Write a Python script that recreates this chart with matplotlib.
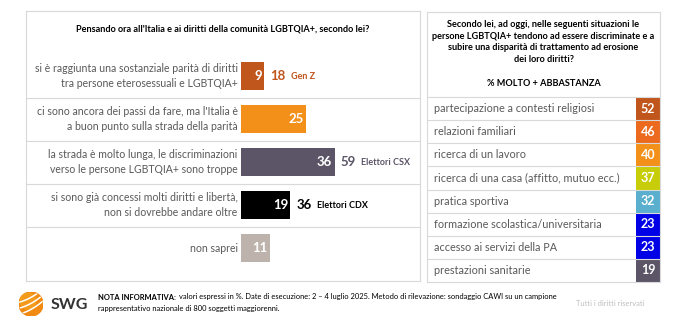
import matplotlib.pyplot as plt
import numpy as np
from matplotlib.patches import Circle

plt.rcParams['font.family'] = ['Lato', 'DejaVu Sans']

# left chart data
left_labels = ['si è raggiunta una sostanziale parità di diritti\ntra persone eterosessuali e LGBTQIA+',
               "ci sono ancora dei passi da fare, ma l'Italia è\na buon punto sulla strada della parità",
               'la strada è molto lunga, le discriminazioni\nverso le persone LGBTQIA+ sono troppe',
               'si sono già concessi molti diritti e libertà,\nnon si dovrebbe andare oltre',
               'non saprei']
left_values = [9, 25, 36, 19, 11]
left_colors = ['#C0561B', '#F39019', '#5C5568', '#000000', '#BDB3AC']
sub_values = [18, None, 59, 36, None]
sub_labels = ['Gen Z', None, 'Elettori CSX', 'Elettori CDX', None]
sub_colors = ['#C0561B', None, '#5C5568', '#000000', None]

# right table data
right_labels = ['partecipazione a contesti religiosi', 'relazioni familiari', 'ricerca di un lavoro',
                'ricerca di una casa (affitto, mutuo ecc.)', 'pratica sportiva',
                'formazione scolastica/universitaria', 'accesso ai servizi della PA',
                'prestazioni sanitarie']
right_values = [52, 46, 40, 37, 32, 23, 23, 19]
right_colors = ['#C0561B', '#EC6A1E', '#F39019', '#C8CD0A', '#5AAFCF', '#0000E6', '#0000E6', '#5C5568']

W, H = 679, 322
fig = plt.figure(figsize=(W / 100, H / 100), dpi=100)


def box(x0, y0, x1, y1):
    return [x0 / W, 1 - y1 / H, (x1 - x0) / W, (y1 - y0) / H]


grid = '#D9D9D9'
label_col = '#595959'

# ---- left panel
ax = fig.add_axes(box(26, 11, 420, 281))
ax.set_xlim(-(241 - 26) / 2.6, (420 - 241) / 2.6)
ax.set_ylim((281 - 76) / 43, (11 - 76) / 43)
ax.set_xticks([])
ax.set_yticks([])
for s in ax.spines.values():
    s.set_color(grid)
    s.set_linewidth(0.8)

y = np.arange(len(left_values))
ax.barh(y, left_values, height=0.66, color=left_colors)
for i in range(len(left_values) - 1):
    ax.axhline(i + 0.5, color=grid, lw=0.8)
for i, (lab, v) in enumerate(zip(left_labels, left_values)):
    ax.text(-1.3, i, lab, ha='right', va='center', fontsize=7.6, color=label_col, linespacing=1.4)
    ax.text(v - 0.9, i, str(v), ha='right', va='center', fontsize=9.5, color='white', fontweight='bold')
    if sub_values[i] is not None:
        ax.text(v + 2.2, i, str(sub_values[i]), ha='left', va='center', fontsize=9.5,
                color=sub_colors[i], fontweight='bold')
        ax.annotate(sub_labels[i], (v + 2.2, i), xytext=(15, 0), textcoords='offset points',
                    ha='left', va='center', fontsize=6.5, color=sub_colors[i], fontweight='bold')
ax.text(0.5, 1 - (29 - 11) / 270, "Pensando ora all'Italia e ai diritti della comunità LGBTQIA+, secondo lei?",
        transform=ax.transAxes, ha='center', va='center', fontsize=6.6, fontweight='bold')

# ---- right panel
ax2 = fig.add_axes(box(427, 12, 660, 282))
rh = (282 - 97) / 8
ax2.set_xlim(0, 1)
ax2.set_ylim(8, -(97 - 12) / rh)
ax2.set_xticks([])
ax2.set_yticks([])
for s in ax2.spines.values():
    s.set_color(grid)
    s.set_linewidth(0.8)

cell_w = 24 / 233
yr = np.arange(len(right_values)) + 0.5
ax2.barh(yr, cell_w, left=1 - cell_w, height=1, color=right_colors)
for i in range(len(right_values)):
    ax2.axhline(i, color=grid, lw=0.8)
for i, (lab, v) in enumerate(zip(right_labels, right_values)):
    ax2.text(0.03, i + 0.5, lab, ha='left', va='center', fontsize=7.8, color=label_col)
    ax2.text(1 - cell_w / 2, i + 0.5, str(v), ha='center', va='center', fontsize=9,
             color='white', fontweight='bold')

ax2.text(0.5, 1 - (42 - 12) / 270,
         'Secondo lei, ad oggi, nelle seguenti situazioni le\n'
         'persone LGBTQIA+ tendono ad essere discriminate e a\n'
         'subire una disparità di trattamento ad erosione\ndei loro diritti?',
         transform=ax2.transAxes, ha='center', va='center', fontsize=6.6, fontweight='bold',
         linespacing=1.35)
ax2.text(0.5, 1 - (84 - 12) / 270, '% MOLTO + ABBASTANZA', transform=ax2.transAxes,
         ha='center', va='center', fontsize=6.6, fontweight='bold')

# ---- footer
lax = fig.add_axes(box(19, 292, 43, 316))
lax.set_xlim(-1, 1)
lax.set_ylim(-1, 1)
lax.set_aspect('equal')
lax.axis('off')
disc = Circle((0, 0), 1, color='#F08A12')
lax.add_patch(disc)
lax.add_patch(Circle((-0.25, 0.25), 0.65, color='#F6A623', alpha=0.6))
t = np.linspace(-1.2, 1.2, 50)
for off in (-0.45, 0.05, 0.55):
    lax.plot(t, 0.55 * t + off + 0.15 * t ** 2, color='white', lw=1.1, clip_path=disc)

fig.text(51 / W, 1 - 305 / H, 'SWG', ha='left', va='center', fontsize=11.5, fontweight='bold', color='#333333')
nota = fig.text(98 / W, 1 - 297 / H, 'NOTA INFORMATIVA:', ha='left', va='center', fontsize=5.4,
                fontweight='bold')
plt.annotate('valori espressi in %. Date di esecuzione: 2 – 4 luglio 2025. Metodo di rilevazione: '
             'sondaggio CAWI su un campione',
             xy=(1, 0.5), xycoords=nota, xytext=(2, 0), textcoords='offset points',
             ha='left', va='center', fontsize=5.4, annotation_clip=False)
fig.text(98 / W, 1 - 308 / H, 'rappresentativo nazionale di 800 soggetti maggiorenni.',
         ha='left', va='center', fontsize=5.4)
fig.text(610 / W, 1 - 304 / H, 'Tutti i diritti riservati', ha='center', va='center',
         fontsize=5.4, color='#BFBFBF')

fig.savefig('out.png', dpi=100)
